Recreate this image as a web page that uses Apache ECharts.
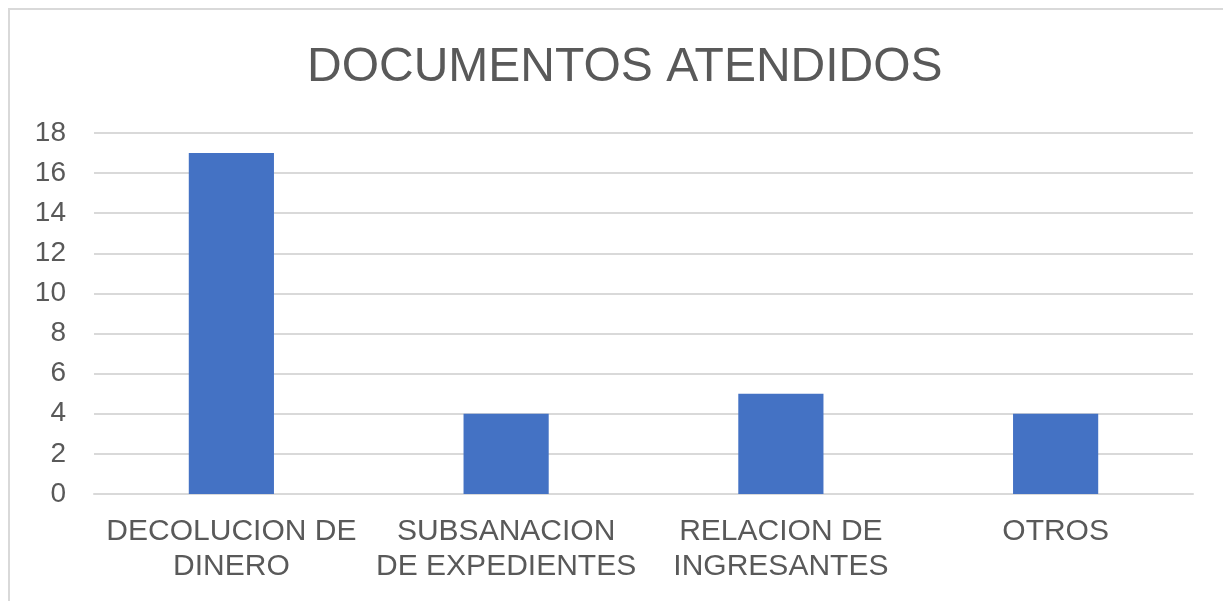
<!DOCTYPE html>
<html>
<head>
<meta charset="utf-8">
<script src="https://cdn.jsdelivr.net/npm/echarts@6/dist/echarts.min.js"></script>
<style>
html, body { margin: 0; padding: 0; background: #fff; overflow: hidden; }
#frame { position: absolute; left: 8px; top: 8px; width: 1300px; height: 700px;
         border-left: 2px solid #d9d9d9; border-top: 2px solid #d9d9d9; }
#main { position: absolute; left: 0; top: 0; width: 1223px; height: 601px; }
</style>
</head>
<body>
<div id="frame"></div>
<div id="main"></div>
<script>
// datos
var categorias = ['DECOLUCION DE\nDINERO', 'SUBSANACION\nDE EXPEDIENTES', 'RELACION DE\nINGRESANTES', 'OTROS'];
var valores = [17, 4, 5, 4];
var titulo = 'DOCUMENTOS ATENDIDOS';

var chart = echarts.init(document.getElementById('main'));
var textColor = '#595959';

option = {
    animation: false
    , title: {
        text: titulo
        , left: 302
        , top: 39
        , textStyle: {
            fontFamily: 'Liberation Sans'
            , fontSize: 48
            , fontWeight: 'normal'
            , color: textColor
        }
    }
    , grid: {
        left: 94
        , right: 30
        , top: 133
        , bottom: 107
        , containLabel: false
    }
    , xAxis: {
        type: 'category'
        , data: categorias
        , axisLine: { show: true, lineStyle: { color: '#d9d9d9', width: 2 } }
        , axisTick: { show: false }
        , axisLabel: {
            interval: 0
            , margin: 20
            , lineHeight: 35
            , fontFamily: 'Liberation Sans'
            , fontSize: 30
            , color: textColor
        }
    }
    , yAxis: {
        type: 'value'
        , min: 0
        , max: 18
        , interval: 2
        , axisLine: { show: false }
        , axisTick: { show: false }
        , splitLine: { lineStyle: { color: '#d9d9d9', width: 2 } }
        , axisLabel: {
            margin: 28
            , fontFamily: 'Liberation Sans'
            , fontSize: 28
            , color: textColor
        }
    }
    , series: [
        {
            type: 'bar'
            , data: valores
            , barWidth: '31%'
            , itemStyle: { color: '#4472c4' }
        }
    ]
};

chart.setOption(option, true);
</script>
</body>
</html>
